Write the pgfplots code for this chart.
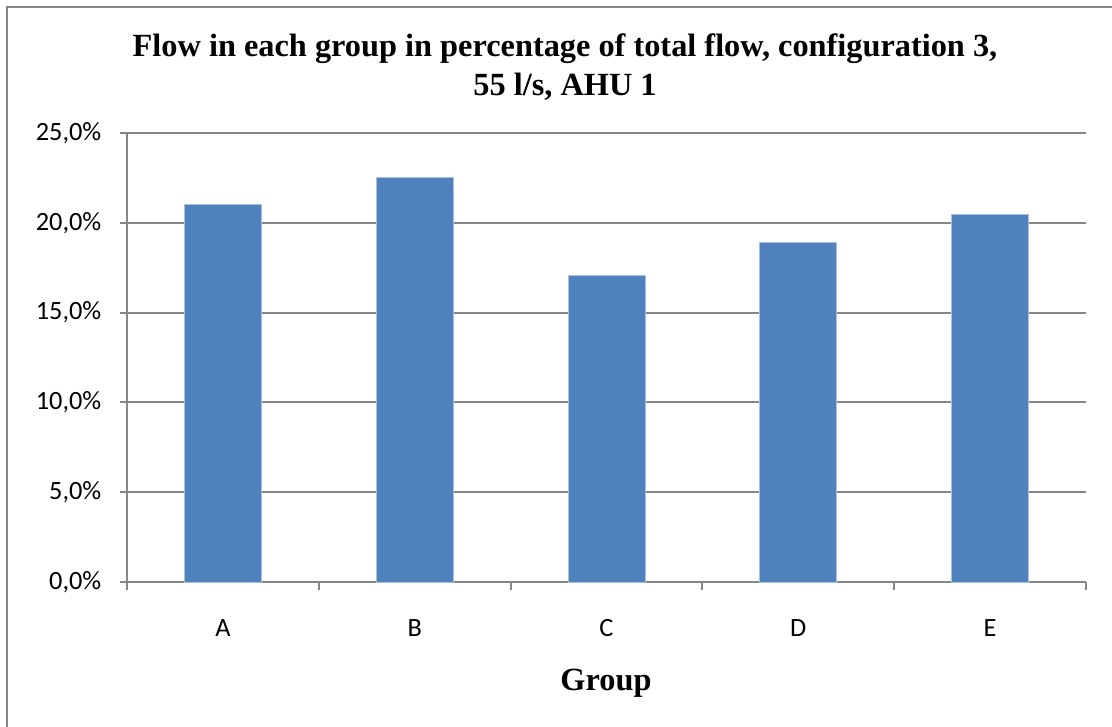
\documentclass[border=0pt]{standalone}
\usepackage{pgfplots}
\pgfplotsset{compat=1.18}
\usepackage{fontspec}
\setmainfont{Carlito}
\newfontfamily\titlefont{Liberation Serif}

\definecolor{barblue}{HTML}{4F81BD}
\definecolor{baredge}{HTML}{A7C0DE}
\definecolor{axisgray}{HTML}{868686}

\pgfplotstableread{
x val
0 21.01
1 22.55
2 17.07
3 18.89
4 20.47
}\flowdata

\begin{document}
\begin{tikzpicture}
    % page is 1112 x 727 px at 0.02 cm per px
    \useasboundingbox (0,0) rectangle (22.24,14.54);
    \draw[axisgray, line width=1.2pt] (0.14,0) -- (0.14,14.40) -- (22.24,14.40);

    \begin{axis}[
        at={(2.54cm,2.90cm)},
        anchor=south west,
        scale only axis,
        width=19.18cm,
        height=8.98cm,
        xmin=-0.5, xmax=4.5,
        ymin=0, ymax=25,
        axis x line=bottom,
        axis y line=left,
        axis line style={axisgray, line width=1.2pt, -},
        xtick={0,1,2,3,4},
        xticklabels={A,B,C,D,E},
        major x tick style={draw=none},
        minor xtick={-0.5,0.5,1.5,2.5,3.5,4.5},
        minor x tick style={axisgray, line width=1.2pt},
        minor tick length=0.16cm,
        ytick={0,5,10,15,20,25},
        yticklabels={{0,0\%},{5,0\%},{10,0\%},{15,0\%},{20,0\%},{25,0\%}},
        major tick length=0.14cm,
        tick align=outside,
        y tick style={axisgray, line width=1.2pt},
        ymajorgrids=true,
        grid style={axisgray, line width=1.2pt},
        tick label style={font=\fontsize{15}{18}\selectfont, text=black},
        xticklabel style={yshift=-0.48cm},
        yticklabel style={xshift=-0.25cm},
        clip=false,
    ]
        \addplot[ybar, bar width=1.54cm, fill=barblue, draw=baredge, line width=0.5pt]
            table[x=x, y=val] {\flowdata};
    \end{axis}

    \node[font=\titlefont\bfseries\fontsize{18.4}{21.8}\selectfont, align=center]
        at (11.30,13.20) {Flow in each group in percentage of total flow, configuration 3,\\55 l/s, AHU 1};
    \node[font=\titlefont\bfseries\fontsize{18.4}{21.8}\selectfont]
        at (12.12,0.88) {Group};
\end{tikzpicture}
\end{document}
